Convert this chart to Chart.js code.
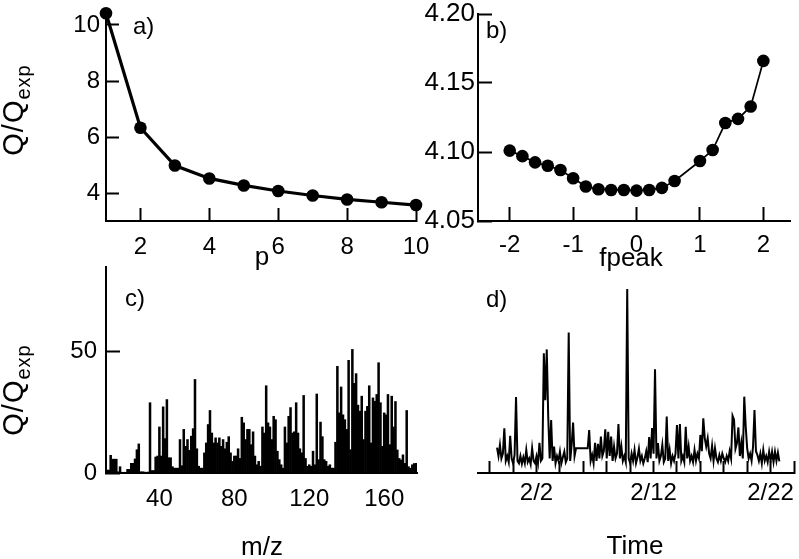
<!DOCTYPE html>
<html>
<head>
<meta charset="utf-8">
<script src="https://cdn.jsdelivr.net/npm/chart.js@4.4.1/dist/chart.umd.min.js"></script>
<style>
html, body { margin: 0; padding: 0; background: #fff; }
#wrap { position: relative; width: 799px; height: 559px; overflow: hidden; font-family: "Liberation Sans", Arial, sans-serif; color: #000; }
#wrap canvas { position: absolute; }
.lbl { position: absolute; font-size: 24px; line-height: 1; white-space: nowrap; }
.ax { font-size: 26px; }
.ctr { transform: translateX(-50%); }
.ylab { position: absolute; font-size: 29px; letter-spacing: 1px; line-height: 1; white-space: nowrap; transform: translate(-50%, -50%) rotate(-90deg); }
.ylab sub { font-size: 20px; vertical-align: -7px; }
</style>
</head>
<body>
<div id="wrap">
  <canvas id="ca" width="440" height="280" style="left:0;top:0"></canvas>
  <canvas id="cb" width="394" height="280" style="left:405px;top:0"></canvas>
  <canvas id="cc" width="440" height="309" style="left:0;top:250px"></canvas>
  <canvas id="cd" width="359" height="309" style="left:440px;top:250px"></canvas>
  <div class="lbl" style="left:133px;top:14px">a)</div>
  <div class="lbl" style="left:486px;top:18px">b)</div>
  <div class="lbl" style="left:125px;top:286px">c)</div>
  <div class="lbl" style="left:486px;top:287px">d)</div>
  <div class="lbl ax ctr" style="left:262px;top:243px">p</div>
  <div class="lbl ax ctr" style="left:631px;top:244px">fpeak</div>
  <div class="lbl ax ctr" style="left:262px;top:533px">m/z</div>
  <div class="lbl ax ctr" style="left:635px;top:532px">Time</div>
  <div class="ylab" style="left:16px;top:110px">Q/Q<sub>exp</sub></div>
  <div class="ylab" style="left:16px;top:390px">Q/Q<sub>exp</sub></div>
</div>
<script>
// a) Q/Qexp against number of factors p
const aP = [1, 2, 3, 4, 5, 6, 7, 8, 9, 10];
const aQ = [10.42, 6.33, 4.98, 4.52, 4.27, 4.07, 3.91, 3.77, 3.67, 3.57];
const aXTicks = [2, 4, 6, 8, 10];
const aYTicks = [4, 6, 8, 10];

// b) Q/Qexp against fpeak (no run at 0.8)
const bF = [-2, -1.8, -1.6, -1.4, -1.2, -1, -0.8, -0.6, -0.4, -0.2, 0, 0.2, 0.4, 0.6, 1, 1.2, 1.4, 1.6, 1.8, 2];
const bQ = [4.101, 4.097, 4.0925, 4.090, 4.087, 4.081, 4.075, 4.073, 4.0725, 4.0725,
            4.072, 4.0725, 4.074, 4.079, 4.0935, 4.1014, 4.121, 4.124, 4.133, 4.166];
const bXTicks = [-2, -1, 0, 1, 2];
const bYTicks = [4.05, 4.10, 4.15, 4.20];

// c) Q/Qexp for each m/z, starting at m/z 12
const cMzStart = 12;
const cQ = [
  1.2, 1.2, 7.3, 5.7, 5.7, 5.7, 0.5, 2.6, 0.3, 0.3,       // 12-21
  0.3, 1.5, 1.5, 4, 4, 5.8, 9.6, 12, 0.5, 0.5,            // 22-31
  0.4, 0.3, 0.4, 29, 1, 1, 6.6, 7, 19, 7,                 // 32-41
  27.3, 14.2, 30.3, 6.3, 6.3, 2.6, 2, 2, 2, 13.8,         // 42-51
  3, 18, 11, 13.8, 9.4, 15.2, 18.3, 38.6, 10, 2.8,        // 52-61
  2, 2, 8.3, 12.4, 20, 25.8, 16.5, 12.4, 14.5, 12.4,      // 62-71
  14.5, 11, 13.8, 10, 12.7, 15, 8.3, 4.8, 7, 7,           // 72-81
  10, 6, 23, 20.7, 13.8, 18, 18, 11.7, 17, 7,             // 82-91
  3.4, 4.8, 2.8, 19, 16.5, 36, 20.7, 19, 13.8, 23.4,      // 92-101
  22, 9, 5.5, 3.4, 2, 19, 12.4, 23.4, 27, 16.5,           // 102-111
  17, 29, 16.5, 10, 8.3, 32, 6, 2.8, 3.4, 2.8,            // 112-121
  9, 3.4, 32.6, 5.5, 21, 15, 5.5, 4.8, 2.8, 3.4,          // 122-131
  2, 2, 12.7, 44, 24.8, 35.5, 24, 22, 18, 46.5,           // 132-141
  9.6, 51, 37, 41, 28, 25.5, 31.7, 13.8, 25.5, 27.5,      // 142-151
  36, 12.4, 31, 29.6, 32.4, 45.5, 29, 11, 24.8, 24,       // 152-161
  32.4, 11.7, 31.7, 19, 29.5, 9.5, 6, 5.4, 7.5, 4,        // 162-171
  25.8, 2.6, 2, 3.4, 3.9, 4                               // 172-177
];
const cXTicks = [40, 80, 120, 160];
const cYTicks = [0, 50];

// d) Q/Qexp time series, one value every 3 h, day numbers counted in February
const dStart = -1.375;
const dStep = 0.125;
const dQ = [
  10.5, 7, 11.6,
  6, 8, 18.4, 5, 7, 4.5, 15.3, 6,            // day -1
  4, 7.5, 31.3, 5, 4, 7, 3.8, 6.5,           // day 0
  4, 9.5, 4.5, 6, 3.6, 10.2, 5, 4,           // day 1
  7, 4, 12.5, 5, 6, 49.4, 30, 51,            // 2/2
  23.3, 6, 21.9, 5, 10.9, 4, 7, 5,
  8.8, 4, 6.5, 8.8, 4.5, 6, 58, 5,
  11.6, 20.8, 7, 10.2, null, null, null, null,
  null, null, null, 10.2, 17.7, 5, 7.5, 4,
  12.5, 5, 12, 6, 15, 7, 9, 18,
  6, 17, 7, 15, 5, 10.9, 6, 8,
  20.2, 6, 10.9, 5, 7, 4.5, 75.9, 6,
  4, 8, 5, 9.5, 4, 6.5, 10, 5,
  7, 4, 6, 9, 4.5, 14.8, 6, 18.5,
  8, 42.8, 6, 12.3, 5, 7, 11.6, 4.5,         // 2/12
  6, 23.3, 5, 9.5, 4, 7, 5, 8,
  19.8, 6, 20.2, 5, 7, 4.5, 19.1, 6,
  10.9, 5, 7, 4.5, 9.5, 5, 8, 6,
  15.7, 9, 22.6, 14.3, 10.9, 14.3, 8, 6,
  11.2, 5, 10.2, 6, 4.5, 7.4, 5, 8,
  6, 4.5, 7, 5, 9, 6, 23.6, 22,
  10, 12.3, 18.8, 7, 12.3, 6, 31.5, 19.1,
  10.2, 6, 8, 5, 10.9, 26, 9, 7.4,
  5, 8, 4, 9.5, 5, 7, 4.5, 8.8,
  5, 8.8, 4.5, 8.8, 5, 8.4, 4.8              // 2/22
];
const dXTicks = [-2, 0, 2, 4, 6, 8, 10, 12, 14, 16, 18, 20, 22, 24];
const dXLabels = ['', '', '2/2', '', '', '', '', '2/12', '', '', '', '', '2/22', ''];

const YW = 50, XH = 50;

Chart.defaults.font.family = '"Liberation Sans", Arial, sans-serif';
Chart.defaults.font.size = 24;
Chart.defaults.color = '#000';

// plot area given in page pixels, canvas placed at (cx, cy) with size cw x ch
function pad(cx, cy, cw, ch, l, t, r, b, yw) {
  return { left: l - cx - yw, top: t - cy, right: cx + cw - r, bottom: cy + ch - b - XH };
}
function fixTicks(arr) {
  return s => { s.ticks = arr.map(v => ({ value: v })); };
}
// fixed axis boxes so the plot areas land where the reference has them
function fitY(w) {
  return s => { s.width = w; s.paddingTop = 0; s.paddingBottom = 0; };
}
function fitX(s) {
  s.height = XH; s.paddingLeft = 0; s.paddingRight = 0;
}
// a negative tick length turns the tick marks inwards, into the plot
function inGrid(len) {
  return { display: true, drawOnChartArea: false, drawTicks: true, tickLength: -len, tickColor: '#000', tickWidth: 2 };
}
const border = { display: true, color: '#000', width: 2 };
const noGrid = { display: false, drawTicks: false };
const common = {
  responsive: false,
  animation: false,
  events: [],
  plugins: { legend: { display: false }, tooltip: { enabled: false } }
};

const charts = [];

// a)
charts.push(new Chart(document.getElementById('ca'), {
  type: 'line',
  data: {
    datasets: [{
      data: aP.map((p, i) => ({ x: p, y: aQ[i] })),
      borderColor: '#000', borderWidth: 3.2,
      pointRadius: 6.3, pointBackgroundColor: '#000', pointBorderWidth: 0,
      clip: false
    }]
  },
  options: {
    ...common,
    layout: { padding: pad(0, 0, 440, 280, 106, 11, 416, 221, YW) },
    scales: {
      x: {
        type: 'linear', min: 1, max: 10,
        grid: inGrid(13), border,
        afterBuildTicks: fixTicks(aXTicks), afterFit: fitX,
        ticks: { padding: 25, maxRotation: 0, autoSkip: false }
      },
      y: {
        min: 3, max: 10.5,
        grid: inGrid(13), border,
        afterBuildTicks: fixTicks(aYTicks), afterFit: fitY(YW),
        ticks: { padding: 19 }
      }
    }
  }
}));

// b)
charts.push(new Chart(document.getElementById('cb'), {
  type: 'line',
  data: {
    datasets: [{
      data: bF.map((f, i) => ({ x: f, y: bQ[i] })),
      borderColor: '#000', borderWidth: 1.7,
      pointRadius: 6.3, pointBackgroundColor: '#000', pointBorderWidth: 0,
      clip: false
    }]
  },
  options: {
    ...common,
    layout: { padding: pad(405, 0, 394, 280, 478, 14, 790, 221, YW + 20) },
    scales: {
      x: {
        type: 'linear', min: -2.5, max: 2.42,
        grid: inGrid(14), border,
        afterBuildTicks: fixTicks(bXTicks), afterFit: fitX,
        ticks: { padding: 24, maxRotation: 0, autoSkip: false }
      },
      y: {
        min: 4.05, max: 4.20,
        grid: inGrid(14), border,
        afterBuildTicks: fixTicks(bYTicks), afterFit: fitY(YW + 20),
        ticks: { padding: 17, font: { size: 26 }, callback: v => v.toFixed(2) }
      }
    }
  }
}));

// c)
charts.push(new Chart(document.getElementById('cc'), {
  type: 'bar',
  data: {
    labels: cQ.map((v, i) => cMzStart + i),
    datasets: [{
      data: cQ,
      backgroundColor: '#000', borderWidth: 0,
      barPercentage: 1, categoryPercentage: 1
    }]
  },
  options: {
    ...common,
    layout: { padding: pad(0, 250, 440, 309, 106, 267, 417, 473, YW) },
    scales: {
      x: {
        grid: noGrid, border,
        afterFit: fitX,
        ticks: {
          padding: 12, autoSkip: false, maxRotation: 0,
          callback: function (v) {
            const m = Number(this.getLabelForValue(v));
            return cXTicks.includes(m) ? String(m) : '';
          }
        }
      },
      y: {
        min: 0, max: 85,
        grid: inGrid(14), border,
        afterBuildTicks: fixTicks(cYTicks), afterFit: fitY(YW),
        ticks: { padding: 23 }
      }
    }
  }
}));

// d)
charts.push(new Chart(document.getElementById('cd'), {
  type: 'line',
  data: {
    datasets: [{
      data: dQ.map((v, i) => ({ x: dStart + i * dStep, y: v })),
      borderColor: '#000', borderWidth: 2,
      pointRadius: 0, spanGaps: true, tension: 0
    }]
  },
  options: {
    ...common,
    layout: { padding: pad(440, 250, 359, 309, 478, 267, 794, 473, 0) },
    scales: {
      x: {
        type: 'linear', min: -3, max: 24,
        grid: inGrid(12), border,
        afterBuildTicks: fixTicks(dXTicks), afterFit: fitX,
        ticks: { padding: 18, maxRotation: 0, autoSkip: false, callback: (v, i) => dXLabels[i] }
      },
      y: { display: false, min: 0, max: 85 }
    }
  }
}));

// draw everything once more after load settles
setTimeout(() => { charts.forEach(c => c.update('none')); }, 300);
</script>
</body>
</html>
